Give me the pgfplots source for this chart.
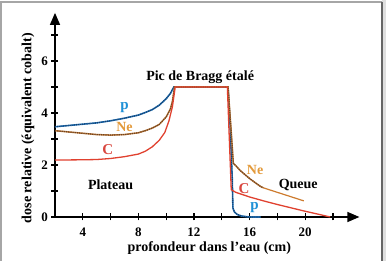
\documentclass[border=0pt]{standalone}
\usepackage{pgfplots}
\pgfplotsset{compat=1.18}
\usepackage{pgfplotstable}
\usepackage{fontspec}
\setmainfont{Liberation Serif}
\usetikzlibrary{arrows.meta}
\definecolor{pblue}{HTML}{1E70B5}
\definecolor{pdot}{HTML}{1A3F6A}
\definecolor{plab}{HTML}{1E90D6}
\definecolor{nebrown}{HTML}{C07A3A}
\definecolor{nedot}{HTML}{6B4423}
\definecolor{nelab}{HTML}{E39A3B}
\definecolor{cred}{HTML}{E0412F}
\definecolor{clab}{HTML}{D9473F}

\pgfplotstableread{
x y
2 3.47
3 3.52
4 3.57
5 3.62
6 3.70
7 3.80
8 3.92
8.5 4.02
9 4.13
9.5 4.30
10 4.55
10.3 4.75
10.55 5.0
11 5
12 5
13 5
14 5
14.45 5
14.6 3.5
14.75 1.5
14.8 0.35
14.9 0.2
15.1 0.1
15.4 0.04
15.8 0.01
16.2 0
16.8 0
}\pdata

\pgfplotstableread{
x y
2 3.32
3 3.27
4 3.22
5 3.17
6 3.15
7 3.17
8 3.24
8.5 3.32
9 3.42
9.5 3.56
10 3.85
10.3 4.15
10.45 4.45
10.6 5
11 5
12 5
13 5
14 5
14.45 5
14.65 3.5
14.83 2.06
15.0 1.98
15.3 1.80
15.6 1.66
16 1.48
16.4 1.32
16.8 1.17
17 1.12
}\nedata

\pgfplotstableread{
x y
17 1.12
19.9 0.62
}\netail

\pgfplotstableread{
x y
2 2.19
4 2.20
5 2.21
6 2.25
7 2.32
8 2.42
8.5 2.53
9 2.70
9.5 2.95
9.9 3.25
10.2 3.70
10.45 4.25
10.65 5
14.4 5
14.68 1.05
15 0.95
15.5 0.86
16 0.77
17 0.62
18 0.48
19 0.35
20 0.22
21 0.10
21.8 0
}\cdata

\begin{document}
\begin{tikzpicture}
\useasboundingbox (-55pt,-44pt) rectangle (331pt,217pt);
\fill[gray!25] (327pt,-44pt) rectangle (331pt,217pt);
\draw[gray!70, line width=1.2pt] (-54pt,-60pt) -- (-54pt,215pt) -- (326.5pt,215pt);
\draw[gray!80!black, line width=2pt] (326.5pt,215pt) -- (326.5pt,-60pt);
\begin{axis}[
  at={(0,0)}, anchor=south west,
  scale only axis,
  width=304.4pt, height=204.1pt,
  xmin=2, xmax=23.9, ymin=0, ymax=7.85,
  axis lines=left,
  axis line style={line width=1.3pt, -{Triangle[length=12pt,width=10pt]}},
  xtick={4,6,...,22}, xticklabels={4,,8,,12,,16,,20,},
  ytick={0,1,...,7}, yticklabels={0,,2,,4,,6,},
  tick align=center,
  major tick length=7pt,
  tick style={line width=1.1pt, black},
  /pgf/number format/assume math mode=true,
  tick label style={font=\fontsize{13}{15}\selectfont\bfseries},
  xticklabel style={yshift=-4pt},
  clip=false,
]
\addplot[pblue, line width=1.6pt] table[x=x,y=y] {\pdata};
\addplot[pdot, densely dotted, line width=1.1pt] table[x=x,y=y] {\pdata};
\addplot[nebrown, line width=1.5pt] table[x=x,y=y] {\nedata};
\addplot[nedot, densely dotted, line width=1.2pt] table[x=x,y=y] {\nedata};
\addplot[nebrown!80!orange, line width=1.2pt] table[x=x,y=y] {\netail};
\addplot[cred, line width=1.3pt] table[x=x,y=y] {\cdata};

\node[font=\fontsize{14}{16}\selectfont\bfseries] at (axis cs:12.44,5.36) {Pic de Bragg étalé};
\node[font=\fontsize{14}{16}\selectfont\bfseries] at (axis cs:6.0,1.23) {Plateau};
\node[font=\fontsize{14}{16}\selectfont\bfseries] at (axis cs:19.5,1.23) {Queue};
\node[font=\fontsize{15}{17}\selectfont\bfseries, text=plab] at (axis cs:7.0,4.22) {p};
\node[font=\fontsize{14}{16}\selectfont\bfseries, text=nelab] at (axis cs:7.0,3.45) {Ne};
\node[font=\fontsize{15}{17}\selectfont\bfseries, text=clab] at (axis cs:5.8,2.6) {C};
\node[font=\fontsize{14}{16}\selectfont\bfseries, text=nelab] at (axis cs:16.4,1.82) {Ne};
\node[font=\fontsize{15}{17}\selectfont\bfseries, text=clab] at (axis cs:15.6,1.08) {C};
\node[font=\fontsize{15}{17}\selectfont\bfseries, text=plab] at (axis cs:16.35,0.36) {p};
\node[font=\fontsize{14}{16}\selectfont\bfseries] at ([yshift=-31pt]axis cs:13.1,0) {profondeur dans l’eau (cm)};
\node[font=\fontsize{14}{16}\selectfont\bfseries, rotate=90] at ([xshift=-27pt]axis cs:2,3.42) {dose relative (équivalent cobalt)};
\end{axis}
\end{tikzpicture}
\end{document}
